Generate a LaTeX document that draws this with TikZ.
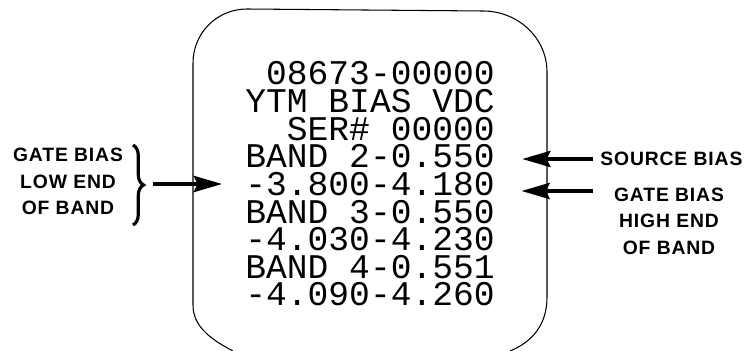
\documentclass[tikz,border=0pt]{standalone}
\usepackage{fontspec}
\usepackage{tikz}
\usetikzlibrary{arrows.meta,decorations.pathreplacing}
\newfontfamily\dispfont{Liberation Mono}
\newfontfamily\labelfont[LetterSpace=4.5]{Liberation Sans}

\begin{document}
\begin{tikzpicture}
	[x=0.02cm,y=-0.02cm,
	displine/.style={anchor=base east,inner sep=0pt,text height=11.5pt,text depth=0pt,font=\dispfont\fontsize{19.7}{20}\selectfont},
	tag/.style={align=center,inner sep=0pt,font=\labelfont\bfseries\fontsize{11}{15.1}\selectfont},
	bigarrow/.style={line width=2.6pt,-{Stealth[length=16pt,width=9pt,inset=2pt]}}]
	\useasboundingbox (0,0) rectangle (750,351);
	% display window
	\draw[line width=0.6pt] (233,351) .. controls (208,338) and (193,325) .. (193,305)
		-- (193,63) .. controls (193,33) and (217,9) .. (247,9)
		-- (483,11) .. controls (518,11) and (547,38) .. (547,72)
		-- (547,297) .. controls (547,325) and (532,342) .. (510,351);
	\foreach \txt [count=\i] in {08673-00000,YTM BIAS VDC,SER\# 00000,BAND 2-0.550,-3.800-4.180,BAND 3-0.550,-4.030-4.230,BAND 4-0.551,-4.090-4.260}
		\node[displine] (l\i) at (495,57.4+27.6*\i) {\txt};
	
	\node[tag] (glo) at (68,181.5) {GATE BIAS\\LOW END\\OF BAND};
	\node[tag,anchor=west] (src) at (600,159) {SOURCE BIAS};
	\node[tag] (ghi) at (669,221) {GATE BIAS\\HIGH END\\OF BAND};
	
	\coordinate (btop) at (133,145);
	\coordinate (bbot) at (133,225);
	\coordinate (bmid) at (153,184);
	\coordinate (gtail) at (593,191);
	\draw[line width=1.8pt,decorate,decoration={brace,amplitude=6pt}] (btop) -- (bbot);
	\draw[bigarrow,shorten >=13pt] (bmid) -- (bmid -| l5.west);
	\draw[bigarrow,shorten <=4pt,shorten >=15.4pt] (src.west) -- (src.west -| l4.east);
	\draw[bigarrow,shorten >=15pt] (gtail) -- (gtail -| l5.east);
\end{tikzpicture}
\end{document}
